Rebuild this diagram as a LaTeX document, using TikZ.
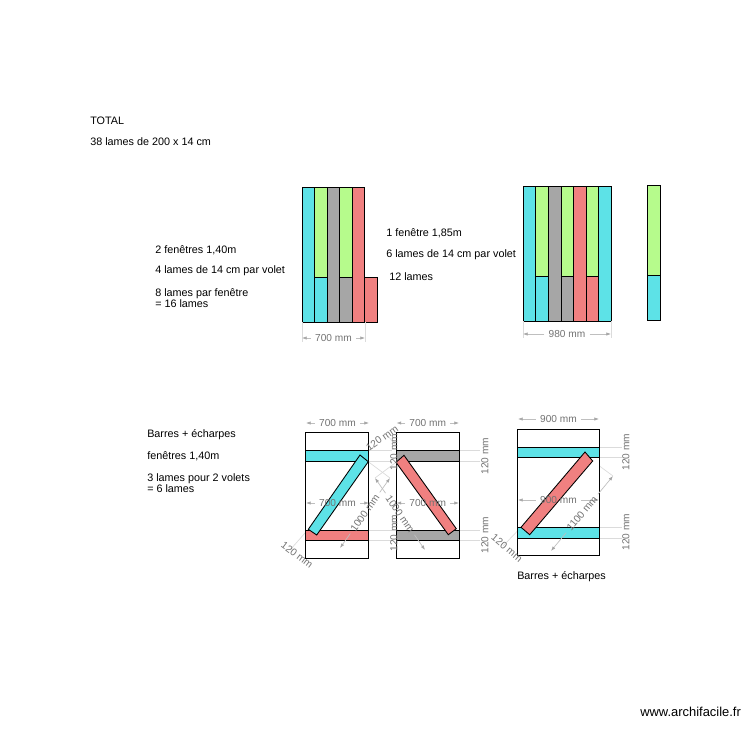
\documentclass[tikz,border=0pt]{standalone}
\usepackage{fontspec}
\setmainfont{Liberation Sans}
\usetikzlibrary{calc,arrows.meta}
\definecolor{lamecyan}{RGB}{93,226,231}
\definecolor{lamegreen}{RGB}{182,251,140}
\definecolor{lamegrey}{RGB}{166,166,166}
\definecolor{lamered}{RGB}{240,128,128}
\definecolor{cotegrey}{RGB}{115,115,115}
\tikzset{
    lame/.style={draw=black,line width=0.65pt},
    frame/.style={draw=black,line width=0.65pt,fill=white},
    note/.style={anchor=west,inner sep=0pt,align=left,font=\fontsize{8.1}{8.25}\selectfont},
    cotetext/.style={inner sep=3pt,text=cotegrey,font=\fontsize{7.6}{8}\selectfont},
    coteline/.style={draw=black!25,line width=0.5pt,-{Latex[length=3.5pt,width=2.5pt,color=black!35]}},
    extline/.style={draw=black!14,line width=0.5pt}
}
% dimension: name, end a, end b, rotation, text
\newcommand{\cote}[5]{
    \coordinate (#1a) at #2;
    \coordinate (#1b) at #3;
    \node[cotetext,rotate=#4] (#1) at ($(#1a)!0.5!(#1b)$) {#5};
    \draw[coteline] (#1) -- (#1a);
    \draw[coteline] (#1) -- (#1b);
}
\begin{document}
\begin{tikzpicture}[x=0.75pt,y=-0.75pt]
    \useasboundingbox[fill=white] (0,0) rectangle (750,750);

    % Left texts
    \node[note] (total) at (90,121) {TOTAL};
    \node[note] (lames) at (90,142) {38 lames de 200 x 14 cm};
    \node[note] (fenA) at (155,250) {2 fenêtres 1,40m};
    \node[note] (voletA) at (155,271) {4 lames de 14 cm par volet};
    \node[note] (sumA) at (155,298.5) {8 lames par fenêtre\\= 16 lames};
    \node[note] (fenB) at (386,233) {1 fenêtre 1,85m};
    \node[note] (voletB) at (386,255) {6 lames de 14 cm par volet};
    \node[note] (sumB) at (389,277) {12 lames};
    \node[note] (barres) at (147,435) {Barres + écharpes};
    \node[note] (fenC) at (147,456) {fenêtres 1,40m};
    \node[note] (sumC) at (147,483.5) {3 lames pour 2 volets\\= 6 lames};
    \node[note] (barresB) at (517,577) {Barres + écharpes};
    \node[note,font=\fontsize{9.7}{10}\selectfont] (site) at (640,712) {www.archifacile.fr};

    % Window 1,40m
    \draw[lame,fill=lamecyan] (302,187) rectangle (314.5,322);
    \draw[lame,fill=lamegreen] (314.5,187) rectangle (327,277);
    \draw[lame,fill=lamecyan] (314.5,277) rectangle (327,322);
    \draw[lame,fill=lamegrey] (327,187) rectangle (339.5,322);
    \draw[lame,fill=lamegreen] (339.5,187) rectangle (352,277);
    \draw[lame,fill=lamegrey] (339.5,277) rectangle (352,322);
    \draw[lame,fill=lamered] (352,187) rectangle (364.5,322);
    \draw[lame,fill=lamered] (364.5,277) rectangle (377,322);

    % Window 1,85m
    \draw[lame,fill=lamecyan] (523,186) rectangle (535.7,321);
    \draw[lame,fill=lamegreen] (535.7,186) rectangle (548.3,276);
    \draw[lame,fill=lamecyan] (535.7,276) rectangle (548.3,321);
    \draw[lame,fill=lamegrey] (548.3,186) rectangle (561,321);
    \draw[lame,fill=lamegreen] (561,186) rectangle (573.7,276);
    \draw[lame,fill=lamegrey] (561,276) rectangle (573.7,321);
    \draw[lame,fill=lamered] (573.7,186) rectangle (586,321);
    \draw[lame,fill=lamegreen] (586,186) rectangle (598.7,276);
    \draw[lame,fill=lamered] (586,276) rectangle (598.7,321);
    \draw[lame,fill=lamecyan] (598.7,186) rectangle (611,321);

    % Spare lame
    \draw[lame,fill=lamegreen] (647.7,185) rectangle (660.3,275);
    \draw[lame,fill=lamecyan] (647.7,275) rectangle (660.3,320);

    % Dimensions of the windows
    \draw[extline] (302,322) -- (302,342);
    \draw[extline] (365,322) -- (365,342);
    \draw[extline] (523,321) -- (523,338);
    \draw[extline] (611,321) -- (611,338);
    \cote{coteA}{(302,338)}{(365,338)}{0}{700 mm}
    \cote{coteB}{(523,334)}{(611,334)}{0}{980 mm}

    % Extension lines of the bars
    \foreach \y in {450.5,461,530,540.5} {
        \draw[extline] (369,\y) -- (392,\y);
        \draw[extline] (459,\y) -- (480,\y);
    }
    \foreach \y in {447,457.5,527.5,538} {
        \draw[extline] (599,\y) -- (622,\y);
    }

    % Extension lines of the diagonals
    \draw[extline] (368.3,461.7) -- (390,478);
    \draw[extline] (316.7,535) -- (340,548);
    \draw[extline] (308.3,529.3) -- (290,550);
    \draw[extline] (396,462.3) -- (375,478);
    \draw[extline] (448.3,534.7) -- (425,550);
    \draw[extline] (404,455.3) -- (388,436);
    \draw[extline] (592.7,461) -- (613,476);
    \draw[extline] (529.7,534.7) -- (551,551);
    \draw[extline] (521,527.3) -- (503,546);

    % Frame A
    \draw[frame] (305.7,432.5) rectangle (368.7,558);
    \draw[lame,fill=lamecyan] (305.7,450.5) rectangle (368.7,461);
    \draw[lame,fill=lamered] (305.7,530) rectangle (368.7,540.5);
    \draw[lame,fill=lamecyan] (360,455) -- (368.3,461.7) -- (316.7,535) -- (308.3,529.3) -- cycle;

    % Frame B
    \draw[frame] (396,432.5) rectangle (459.3,558);
    \draw[lame,fill=lamegrey] (396,450.5) rectangle (459.3,461);
    \draw[lame,fill=lamegrey] (396,530) rectangle (459.3,540.5);
    \draw[lame,fill=lamered] (404,455.3) -- (396,462.3) -- (448.3,534.7) -- (456.3,528.7) -- cycle;

    % Frame C
    \draw[frame] (517.7,429.5) rectangle (599.3,555.5);
    \draw[lame,fill=lamecyan] (517.7,447) rectangle (599.3,457.5);
    \draw[lame,fill=lamecyan] (517.7,527.5) rectangle (599.3,538);
    \draw[lame,fill=lamered] (585,452) -- (592.7,461) -- (529.7,534.7) -- (521,527.3) -- cycle;

    % Dimensions of the frames
    \cote{topA}{(306,423)}{(369,423)}{0}{700 mm}
    \cote{midA}{(306,503)}{(369,503)}{0}{700 mm}
    \cote{topB}{(396.5,423)}{(459,423)}{0}{700 mm}
    \cote{midB}{(396.5,503)}{(459,503)}{0}{700 mm}
    \cote{topC}{(518,419)}{(599,419)}{0}{900 mm}
    \cote{midC}{(518,500)}{(599,500)}{0}{900 mm}
    \cote{diagA}{(390,478)}{(340,548)}{55}{1000 mm}
    \cote{diagB}{(375,478)}{(425,550)}{-55}{1000 mm}
    \cote{diagC}{(613,476)}{(551,551)}{50}{1100 mm}

    % Short dimensions, text only
    \node[cotetext,rotate=-37] (shortA) at (297,555) {120 mm};
    \node[cotetext,rotate=35] (shortB) at (382,438) {120 mm};
    \node[cotetext,rotate=-40] (shortC) at (507,548) {120 mm};
    \node[cotetext,rotate=90] (barA) at (394,452) {120 mm};
    \node[cotetext,rotate=90] (barB) at (394,533) {120 mm};
    \node[cotetext,rotate=90] (barC) at (485,456) {120 mm};
    \node[cotetext,rotate=90] (barD) at (485,535) {120 mm};
    \node[cotetext,rotate=90] (barE) at (626,452) {120 mm};
    \node[cotetext,rotate=90] (barF) at (626,532) {120 mm};
\end{tikzpicture}
\end{document}
